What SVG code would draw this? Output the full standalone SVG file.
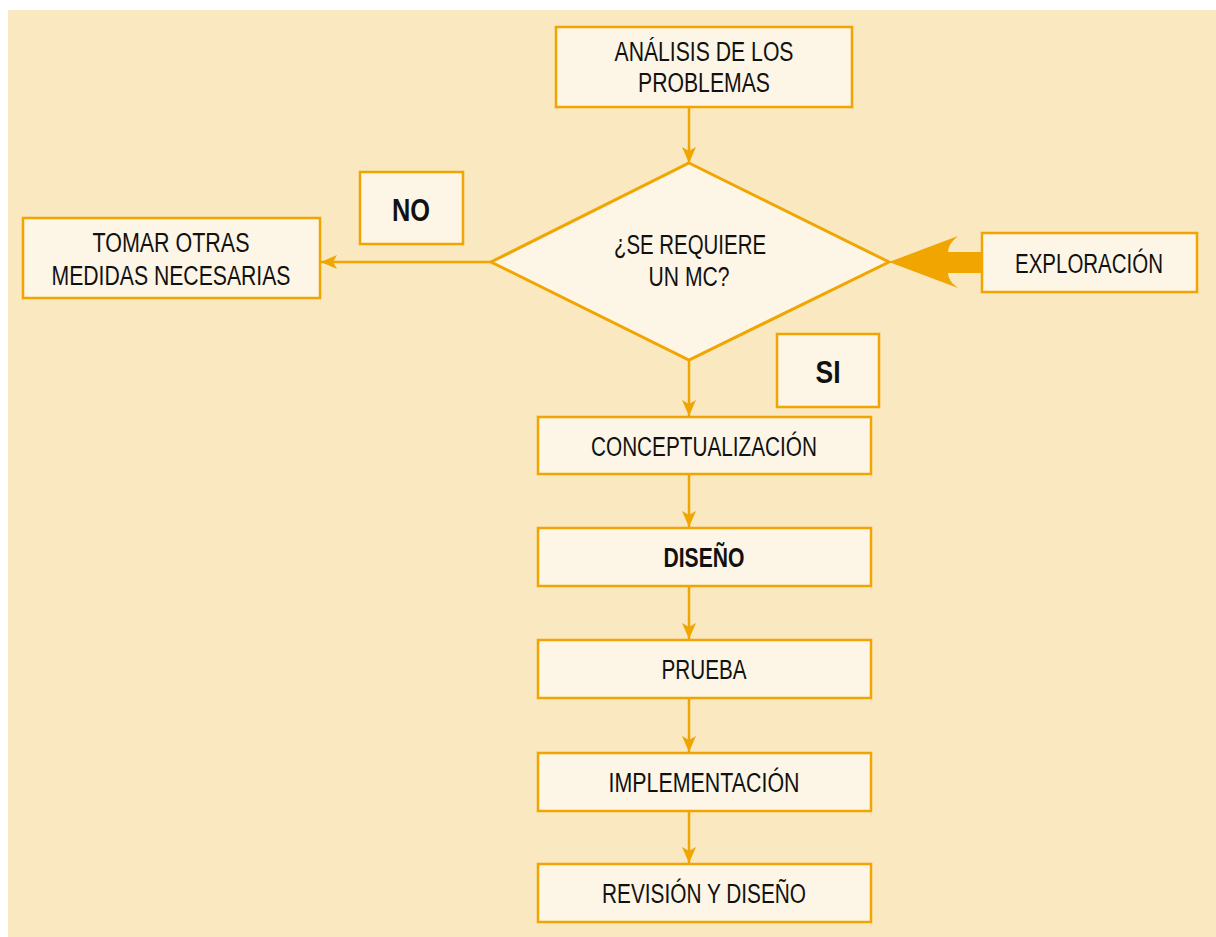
<svg xmlns="http://www.w3.org/2000/svg" width="1216" height="937" viewBox="0 0 1216 937">
<defs>
<style>
.box{fill:#FDF5E6;stroke:#F0A500;stroke-width:2.5}
.t{font-family:"Liberation Sans",Arial,sans-serif;font-size:27px;fill:#111;text-anchor:middle}
.b{font-weight:bold}
.c{fill:none;stroke:#F0A500;stroke-width:2.5}
</style>
<marker id="ah" viewBox="0 0 16 14" refX="16" refY="7" markerWidth="16" markerHeight="14" markerUnits="userSpaceOnUse" orient="auto">
<path d="M0,0 L16,7 L0,14 L4,7 Z" fill="#F0A500"/>
</marker>
</defs>
<rect x="0" y="0" width="1216" height="937" fill="#FFFFFF"/>
<rect x="8" y="10" width="1208" height="927" fill="#FAE8C1"/>
<g id="connectors">
<line class="c" x1="689" y1="108" x2="689" y2="163" marker-end="url(#ah)"/>
<line class="c" x1="491" y1="262" x2="321" y2="262" marker-end="url(#ah)"/>
<line class="c" x1="689" y1="360" x2="689" y2="416" marker-end="url(#ah)"/>
<line class="c" x1="689" y1="475" x2="689" y2="527" marker-end="url(#ah)"/>
<line class="c" x1="689" y1="587" x2="689" y2="639" marker-end="url(#ah)"/>
<line class="c" x1="689" y1="699" x2="689" y2="752" marker-end="url(#ah)"/>
<line class="c" x1="689" y1="812" x2="689" y2="863" marker-end="url(#ah)"/>
<path d="M889,262 L958,236 Q948,244 948,252 L982,252 L982,273 L948,273 Q948,281 958,288 Z" fill="#F0A500"/>
</g>
<g id="analisis">
<rect class="box" x="556" y="27" width="296" height="80"/>
<text class="t" x="704" y="61" textLength="179" lengthAdjust="spacingAndGlyphs">ANÁLISIS DE LOS</text>
<text class="t" x="704" y="92" textLength="132" lengthAdjust="spacingAndGlyphs">PROBLEMAS</text>
</g>
<g id="decision">
<polygon points="689,163 889,262 689,360 491,262" fill="#FDF5E6" stroke="#F0A500" stroke-width="3"/>
<text class="t" x="690" y="254" textLength="152" lengthAdjust="spacingAndGlyphs">¿SE REQUIERE</text>
<text class="t" x="689" y="286" textLength="81" lengthAdjust="spacingAndGlyphs">UN MC?</text>
</g>
<g id="tomar">
<rect class="box" x="23" y="218" width="297" height="80"/>
<text class="t" x="171" y="252" textLength="157" lengthAdjust="spacingAndGlyphs">TOMAR OTRAS</text>
<text class="t" x="171" y="285" textLength="239" lengthAdjust="spacingAndGlyphs">MEDIDAS NECESARIAS</text>
</g>
<g id="no">
<rect class="box" x="360" y="172" width="103" height="72"/>
<text class="t b" x="411" y="221" style="font-size:32px" textLength="38" lengthAdjust="spacingAndGlyphs">NO</text>
</g>
<g id="exploracion">
<rect class="box" x="982" y="233" width="215" height="59"/>
<text class="t" x="1089" y="273" textLength="148" lengthAdjust="spacingAndGlyphs">EXPLORACIÓN</text>
</g>
<g id="si">
<rect class="box" x="777" y="334" width="102" height="73"/>
<text class="t b" x="828" y="383" style="font-size:32px" textLength="25" lengthAdjust="spacingAndGlyphs">SI</text>
</g>
<g id="conceptualizacion">
<rect class="box" x="538" y="417" width="333" height="57"/>
<text class="t" x="704" y="456" textLength="226" lengthAdjust="spacingAndGlyphs">CONCEPTUALIZACIÓN</text>
</g>
<g id="diseno">
<rect class="box" x="538" y="528" width="333" height="58"/>
<text class="t b" x="704" y="567" textLength="81" lengthAdjust="spacingAndGlyphs">DISEÑO</text>
</g>
<g id="prueba">
<rect class="box" x="538" y="640" width="333" height="58"/>
<text class="t" x="704" y="679" textLength="85" lengthAdjust="spacingAndGlyphs">PRUEBA</text>
</g>
<g id="implementacion">
<rect class="box" x="538" y="753" width="333" height="58"/>
<text class="t" x="704" y="792" textLength="191" lengthAdjust="spacingAndGlyphs">IMPLEMENTACIÓN</text>
</g>
<g id="revision">
<rect class="box" x="538" y="864" width="333" height="58"/>
<text class="t" x="704" y="903" textLength="204" lengthAdjust="spacingAndGlyphs">REVISIÓN Y DISEÑO</text>
</g>
</svg>
